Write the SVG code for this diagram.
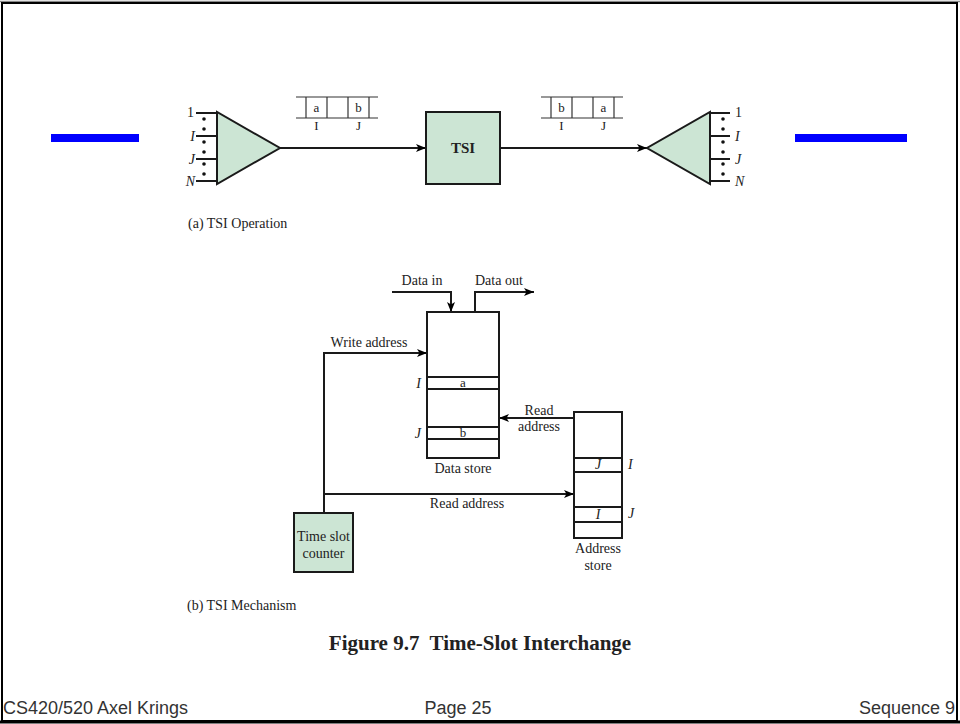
<svg xmlns="http://www.w3.org/2000/svg" width="960" height="724" viewBox="0 0 960 724">
<defs>
<marker id="ah" viewBox="0 0 10 8" refX="10" refY="4" markerWidth="10" markerHeight="8" markerUnits="userSpaceOnUse" orient="auto">
<path d="M0,0 L10,4 L0,8 L2.5,4 Z" fill="#000"/>
</marker>
<style>
.ln{stroke:#1a1a1a;stroke-width:2;fill:none}
.box{fill:#fff;stroke:#1a1a1a;stroke-width:2}
.g{fill:#cce5d4;stroke:#1a1a1a;stroke-width:2}
.thin{stroke:#333;stroke-width:1.2;fill:none}
.t{font-family:"Liberation Serif","Times New Roman",serif;font-size:14px;fill:#222}
.ti{font-family:"Liberation Serif","Times New Roman",serif;font-size:14px;font-style:italic;fill:#222}
.s{font-family:"Liberation Serif","Times New Roman",serif;font-size:13px;fill:#222}
.c{text-anchor:middle}
.e{text-anchor:end}
.f{font-family:"Liberation Sans",Arial,sans-serif;font-size:18px;fill:#333}
.dot{fill:#111}
</style>
</defs>
<rect width="960" height="724" fill="#fff"/>
<line x1="0" y1="1.5" x2="960" y2="1.5" stroke="#888" stroke-width="1.5"/>
<rect x="2" y="3" width="955" height="718" fill="none" stroke="#000" stroke-width="2"/>
<line x1="0" y1="722" x2="960" y2="722" stroke="#000" stroke-width="3"/>

<rect x="51" y="134" width="88" height="8" fill="#0000ff"/>
<rect x="795" y="134" width="112" height="8" fill="#0000ff"/>

<g id="connectors">
<line class="ln" x1="280" y1="148" x2="426" y2="148" marker-end="url(#ah)"/>
<line class="ln" x1="500" y1="148" x2="647" y2="148" marker-end="url(#ah)"/>
<polyline class="ln" points="392,292 451,292 451,312" marker-end="url(#ah)"/>
<polyline class="ln" points="475,312 475,292 534,292" marker-end="url(#ah)"/>
<polyline class="ln" points="324,513 324,353 427,353" marker-end="url(#ah)"/>
<line class="ln" x1="324" y1="494" x2="574" y2="494" marker-end="url(#ah)"/>
<line class="ln" x1="574" y1="418" x2="499" y2="418" marker-end="url(#ah)"/>
</g>

<g id="mux">
<line class="ln" x1="196" y1="113" x2="217" y2="113"/>
<line class="ln" x1="196" y1="136" x2="217" y2="136"/>
<line class="ln" x1="196" y1="159" x2="217" y2="159"/>
<line class="ln" x1="196" y1="181" x2="217" y2="181"/>
<circle class="dot" cx="204" cy="119" r="1.8"/><circle class="dot" cx="204" cy="129" r="1.8"/>
<circle class="dot" cx="204" cy="142" r="1.8"/><circle class="dot" cx="204" cy="152" r="1.8"/>
<circle class="dot" cx="204" cy="164" r="1.8"/><circle class="dot" cx="204" cy="174" r="1.8"/>
<polygon class="g" points="217,112 217,184 280,148"/>
<text class="t e" x="194" y="117">1</text>
<text class="ti e" x="195" y="141">I</text>
<text class="ti e" x="195" y="164">J</text>
<text class="ti e" x="195" y="186">N</text>
</g>

<g id="frame-in">
<line class="thin" x1="296" y1="97" x2="378" y2="97"/>
<line class="thin" x1="296" y1="118" x2="378" y2="118"/>
<line class="thin" x1="306" y1="97" x2="306" y2="118"/>
<line class="thin" x1="327" y1="97" x2="327" y2="118"/>
<line class="thin" x1="348" y1="97" x2="348" y2="118"/>
<line class="thin" x1="369" y1="97" x2="369" y2="118"/>
<text class="s c" x="316.5" y="112">a</text>
<text class="s c" x="358.5" y="112">b</text>
<text class="s c" x="316.5" y="130">I</text>
<text class="s c" x="358.5" y="130">J</text>
</g>

<g id="tsi">
<rect class="g" x="426" y="112" width="74" height="72"/>
<text class="c" x="463" y="153" font-family="Liberation Serif, serif" font-size="15" font-weight="bold" fill="#222">TSI</text>
</g>

<g id="frame-out">
<line class="thin" x1="541" y1="97" x2="623" y2="97"/>
<line class="thin" x1="541" y1="118" x2="623" y2="118"/>
<line class="thin" x1="551" y1="97" x2="551" y2="118"/>
<line class="thin" x1="572" y1="97" x2="572" y2="118"/>
<line class="thin" x1="593" y1="97" x2="593" y2="118"/>
<line class="thin" x1="614" y1="97" x2="614" y2="118"/>
<text class="s c" x="561.5" y="112">b</text>
<text class="s c" x="603.5" y="112">a</text>
<text class="s c" x="561.5" y="130">I</text>
<text class="s c" x="603.5" y="130">J</text>
</g>

<g id="demux">
<line class="ln" x1="710" y1="113" x2="730" y2="113"/>
<line class="ln" x1="710" y1="136" x2="730" y2="136"/>
<line class="ln" x1="710" y1="159" x2="730" y2="159"/>
<line class="ln" x1="710" y1="181" x2="730" y2="181"/>
<circle class="dot" cx="723" cy="119" r="1.8"/><circle class="dot" cx="723" cy="129" r="1.8"/>
<circle class="dot" cx="723" cy="142" r="1.8"/><circle class="dot" cx="723" cy="152" r="1.8"/>
<circle class="dot" cx="723" cy="164" r="1.8"/><circle class="dot" cx="723" cy="174" r="1.8"/>
<polygon class="g" points="710,112 710,184 647,148"/>
<text class="t" x="735" y="117">1</text>
<text class="ti" x="735" y="141">I</text>
<text class="ti" x="735" y="164">J</text>
<text class="ti" x="735" y="186">N</text>
</g>

<text class="t" x="188" y="228">(a) TSI Operation</text>

<g id="data-store">
<rect class="box" x="427" y="312" width="72" height="146"/>
<rect class="box" x="427" y="377" width="72" height="12"/>
<rect class="box" x="427" y="427" width="72" height="12"/>
<text class="s c" x="463" y="387">a</text>
<text class="s c" x="463" y="437">b</text>
<text class="ti e" x="421" y="388">I</text>
<text class="ti e" x="421" y="438">J</text>
<text class="t c" x="463" y="473">Data store</text>
</g>

<g id="address-store">
<rect class="box" x="574" y="412" width="48" height="126"/>
<rect class="box" x="574" y="458" width="48" height="14"/>
<rect class="box" x="574" y="507" width="48" height="15"/>
<text class="ti c" x="598" y="469">J</text>
<text class="ti c" x="598" y="519">I</text>
<text class="ti" x="628" y="469">I</text>
<text class="ti" x="628" y="518">J</text>
<text class="t c" x="598" y="553">Address</text>
<text class="t c" x="598" y="570">store</text>
</g>

<g id="counter">
<rect class="g" x="294" y="513" width="59" height="59"/>
<text class="t c" x="323.5" y="541">Time slot</text>
<text class="t c" x="323.5" y="558">counter</text>
</g>

<g id="labels">
<text class="t c" x="422" y="285">Data in</text>
<text class="t" x="475" y="285">Data out</text>
<text class="t c" x="369" y="347">Write address</text>
<text class="t c" x="539" y="415">Read</text>
<text class="t c" x="539" y="431">address</text>
<text class="t c" x="467" y="508">Read address</text>
</g>

<text class="t" x="187" y="610">(b) TSI Mechanism</text>
<text x="480" y="650" text-anchor="middle" font-family="Liberation Serif, serif" font-size="21" font-weight="bold" fill="#222" xml:space="preserve">Figure 9.7  Time-Slot Interchange</text>

<text class="f" x="3" y="714">CS420/520 Axel Krings</text>
<text class="f c" x="458" y="714">Page 25</text>
<text class="f e" x="955" y="714">Sequence 9</text>
</svg>
